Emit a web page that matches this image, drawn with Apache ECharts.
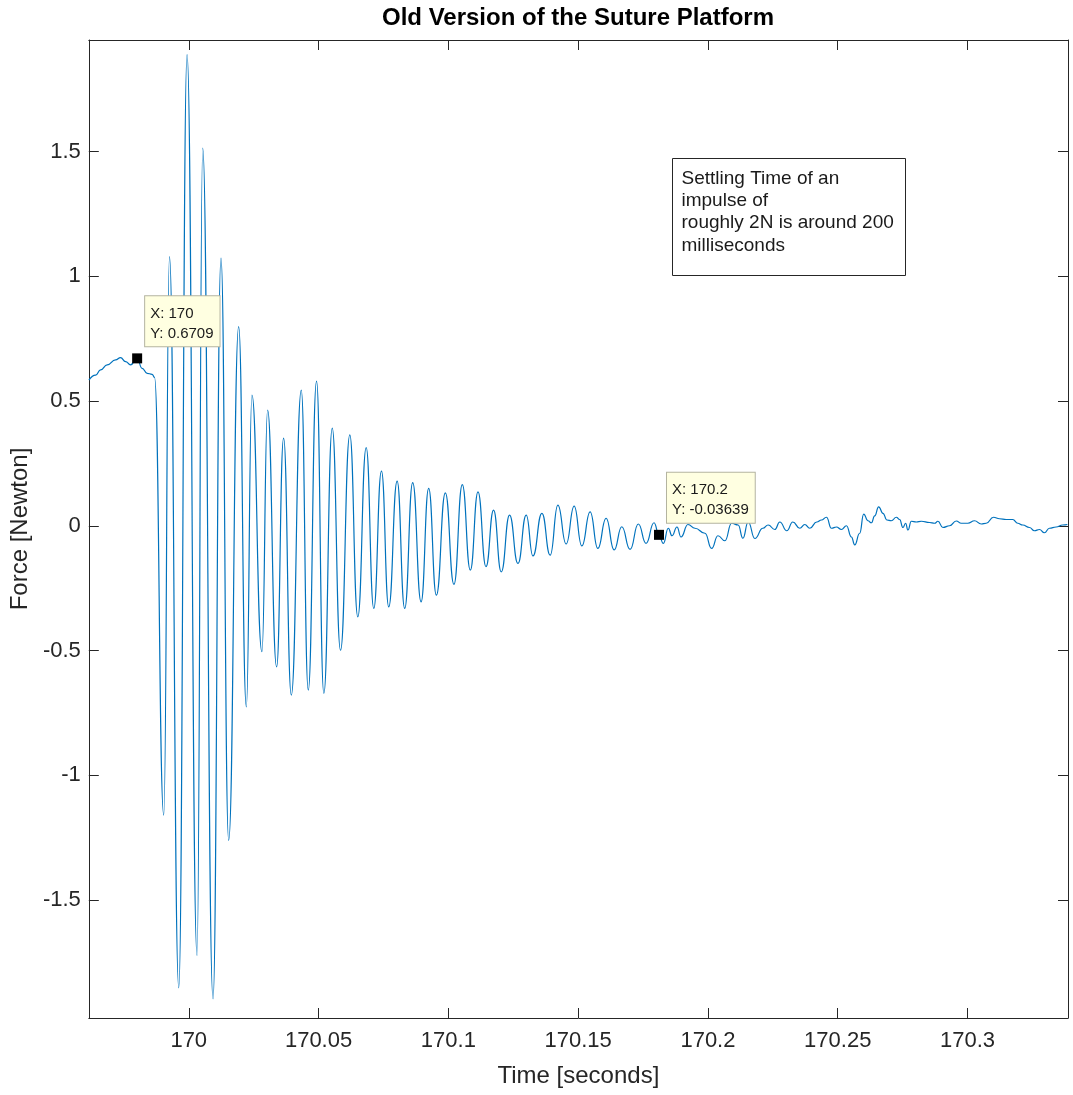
<!DOCTYPE html>
<html>
<head>
<meta charset="utf-8">
<title>Old Version of the Suture Platform</title>
<script src="https://cdn.jsdelivr.net/npm/echarts@6/dist/echarts.min.js"></script>
<style>
    html, body { margin: 0; padding: 0; background: #fff; }
    #chart { width: 1073px; height: 1095px; }
</style>
</head>
<body>
<div id="chart"></div>
<script>
// 采样时间: 相对 170 s 的毫秒数
const timeMs = [
    -38.46, -35.88, -33.96, -31.42, -28.19, -26.27, -24.35, -22.42, -19.88, -17.96, -16.04, -14.12, -13.19,
    -9.62, -7.42, -3.85, -0.65, 3.19, 5.38, 9.35, 12.42, 15.38, 19.23, 22.19, 24.35, 28.19, 30.38,
    33.85, 36.54, 39.50, 43.35, 46.04, 49.23, 52.04, 55.27, 58.46, 62.04, 65.12, 68.35, 71.27, 74.23,
    77.04, 80.27, 83.19, 86.27, 89.50, 92.42, 95.38, 98.85, 102.15, 105.38, 108.46, 111.42, 114.50,
    117.42, 120.38, 123.58, 126.81, 130.00, 132.58, 136.04, 139.23, 142.19, 145.38, 148.46, 151.42,
    154.62, 157.58, 160.77, 163.85, 166.81, 170.00, 173.19, 176.15, 179.23, 181.15, 182.81,
    184.73, 186.15, 188.08, 189.62, 192.31, 195.00, 198.85, 201.42, 203.85, 206.54, 209.12, 211.65,
    213.46, 215.50, 218.08, 221.15, 223.19, 225.77, 227.69, 230.38, 232.69, 235.38, 237.31, 239.23,
    241.92, 243.73, 245.65, 247.58, 249.50, 251.42, 253.35, 255.27, 256.54, 258.46, 260.00, 261.65,
    262.96, 264.23, 265.77, 267.42, 268.96, 270.65, 272.58, 273.85, 275.12, 276.15, 277.04, 278.35,
    280.27, 282.19, 285.38, 287.31, 288.58, 290.50, 293.08, 295.65, 297.58, 300.12, 302.69, 305.27,
    307.19, 310.00, 312.31, 314.88, 317.42, 319.35, 321.27, 323.85, 325.77, 327.69, 329.62, 331.54,
    334.12, 336.65, 338.46
];

// 力 (N)
const force = [
    0.584, 0.604, 0.625, 0.645, 0.665, 0.674, 0.658, 0.645, 0.6709, 0.631, 0.611, 0.607, 0.595,
    -1.160, 1.079, -1.852, 1.888, -1.722, 1.514, -1.896, 1.073, -1.261, 0.798, -0.726, 0.524, -0.505, 0.464,
    -0.566, 0.351, -0.679, 0.544, -0.659, 0.580, -0.672, 0.391, -0.499, 0.364, -0.365, 0.313, -0.331, 0.219,
    -0.325, 0.179, -0.331, 0.173, -0.305, 0.150, -0.278, 0.132, -0.235, 0.165, -0.178, 0.136, -0.164,
    0.063, -0.185, 0.043, -0.151, 0.043, -0.121, 0.050, -0.118, 0.083, -0.073, 0.079, -0.081,
    0.056, -0.091, 0.030, -0.097, -0.004, -0.095, 0.007, -0.071, 0.012, -0.03639, -0.071,
    -0.010, -0.040, -0.005, -0.045, 0.005, -0.010, -0.030, -0.091, -0.040, -0.060, 0.010, 0.003,
    -0.050, 0.015, -0.051, -0.010, 0.003, -0.015, 0.015, -0.020, 0.015, -0.010, 0.005, -0.010,
    0.015, 0.023, 0.034, -0.010, -0.005, -0.015, 0.000, -0.045, -0.077, -0.030, 0.047, 0.020,
    0.012, 0.040, 0.076, 0.050, 0.023, 0.020, 0.034, 0.025, -0.007, 0.010, -0.017, 0.018,
    0.015, 0.018, 0.013, 0.010, 0.018, -0.007, 0.000, 0.019, 0.010, 0.010, 0.020, 0.007,
    0.010, 0.034, 0.028, 0.025, 0.025, 0.010, 0.003, -0.007, -0.020, -0.015, -0.028, -0.010,
    -0.005, 0.003, 0.005
];

const xTicks = [170, 170.05, 170.1, 170.15, 170.2, 170.25, 170.3];
const yTicks = [-1.5, -1, -0.5, 0, 0.5, 1, 1.5];

// 数据提示 (datatip)
const tipMs = [-19.88, 181.15];
const tipForce = [0.6709, -0.03639];
const tipText = ['X: 170\nY: 0.6709', 'X: 170.2\nY: -0.03639'];

const noteText = 'Settling Time of an\nimpulse of\nroughly 2N is around 200\nmilliseconds';

const FONT = '"Liberation Sans", Arial, Helvetica, sans-serif';
const AXIS_COLOR = '#262626';

function initChart() {
    const chart = echarts.init(document.getElementById('chart'));
    const lineData = timeMs.map((ms, i) => [170 + ms / 1000, force[i]]);

    const tickFmt = v => String(+v.toFixed(3));
    const baseX = {
        type: 'value',
        min: 169.9615,
        max: 170.3387,
        splitLine: { show: false },
        axisLine: { show: true, onZero: false, lineStyle: { color: AXIS_COLOR, width: 1 } },
        axisTick: { show: true, inside: true, length: 10, customValues: xTicks, lineStyle: { color: AXIS_COLOR } }
    };
    const baseY = {
        type: 'value',
        min: -1.973,
        max: 1.947,
        splitLine: { show: false },
        axisLine: { show: true, onZero: false, lineStyle: { color: AXIS_COLOR, width: 1 } },
        axisTick: { show: true, inside: true, length: 10, customValues: yTicks, lineStyle: { color: AXIS_COLOR } }
    };

    const option = {
        backgroundColor: '#fff',
        animation: false,
        title: {
            text: 'Old Version of the Suture Platform',
            left: 578,
            top: 6,
            padding: 0,
            textAlign: 'center',
            textStyle: { fontFamily: FONT, fontSize: 24, fontWeight: 'bold', color: '#000' }
        },
        grid: { left: 88, right: 5, top: 40, bottom: 77 },
        xAxis: [
            Object.assign({}, baseX, {
                position: 'bottom',
                name: 'Time [seconds]',
                nameLocation: 'middle',
                nameGap: 46,
                nameTextStyle: { fontFamily: FONT, fontSize: 24, color: AXIS_COLOR },
                axisLabel: { customValues: xTicks, formatter: tickFmt, margin: 12, fontFamily: FONT, fontSize: 22, color: AXIS_COLOR }
            }),
            Object.assign({}, baseX, { position: 'top', axisLabel: { show: false } })
        ],
        yAxis: [
            Object.assign({}, baseY, {
                position: 'left',
                name: 'Force [Newton]',
                nameLocation: 'middle',
                nameRotate: 90,
                nameGap: 50,
                nameTextStyle: { fontFamily: FONT, fontSize: 24, color: AXIS_COLOR },
                axisLabel: { customValues: yTicks, formatter: tickFmt, margin: 8, fontFamily: FONT, fontSize: 22, color: AXIS_COLOR }
            }),
            Object.assign({}, baseY, { position: 'right', axisLabel: { show: false } })
        ],
        series: [{
            type: 'line',
            data: lineData,
            showSymbol: false,
            smooth: 0.5,
            smoothMonotone: 'x',
            lineStyle: { color: '#0072BD', width: 1.2 },
            markPoint: {
                symbol: 'rect',
                symbolSize: 10,
                itemStyle: { color: '#000' },
                label: {
                    show: true,
                    position: [13, -7],
                    align: 'left',
                    verticalAlign: 'bottom',
                    formatter: p => p.name,
                    backgroundColor: '#ffffe1',
                    borderColor: '#b4b4a0',
                    borderWidth: 1,
                    padding: [7, 6, 3, 5],
                    lineHeight: 20,
                    fontFamily: FONT,
                    fontSize: 15,
                    color: '#1a1a1a'
                },
                data: tipMs.map((ms, i) => ({ name: tipText[i], coord: [170 + ms / 1000, tipForce[i]] }))
            }
        }],
        graphic: [{
            type: 'group',
            left: 672,
            top: 158,
            children: [{
                type: 'rect',
                shape: { x: 0, y: 0, width: 233, height: 117 },
                style: { fill: '#fff', stroke: AXIS_COLOR, lineWidth: 1 }
            }, {
                type: 'text',
                x: 9,
                y: 9,
                style: { text: noteText, fontFamily: FONT, fontSize: 19, lineHeight: 22.3, fill: '#1a1a1a' }
            }]
        }]
    };
    chart.setOption(option);
}

document.addEventListener('DOMContentLoaded', initChart);
</script>
</body>
</html>
